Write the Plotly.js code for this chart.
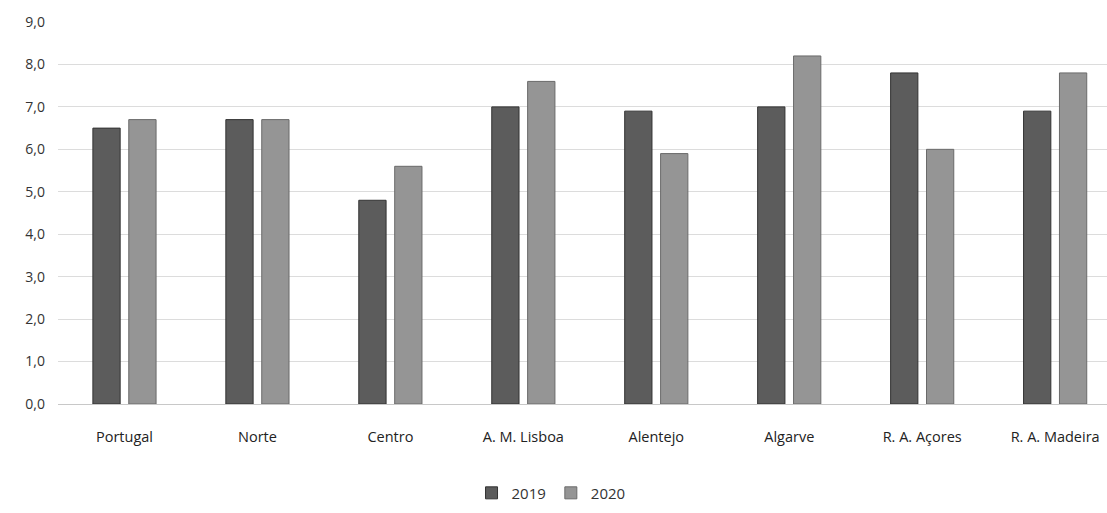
<!DOCTYPE html>
<html>
<head>
<meta charset="utf-8">
<script src="https://cdn.plot.ly/plotly-3.0.1.min.js"></script>
<style>html,body{margin:0;padding:0;background:#fff;}#chart{width:1107px;height:513px;}</style>
</head>
<body>
<div id="chart"></div>
<script>
const categories = ["Portugal", "Norte", "Centro", "A. M. Lisboa", "Alentejo", "Algarve", "R. A. Açores", "R. A. Madeira"];
const values2019 = [6.5, 6.7, 4.8, 7.0, 6.9, 7.0, 7.8, 6.9];
const values2020 = [6.7, 6.7, 5.6, 7.6, 5.9, 8.2, 6.0, 7.8];
const seriesNames = ["2019", "2020"];

const traces = [
  {type: "bar", name: seriesNames[0], x: categories, y: values2019,
   marker: {color: "#5c5c5c", line: {color: "#333333", width: 1}}},
  {type: "bar", name: seriesNames[1], x: categories, y: values2020,
   marker: {color: "#959595", line: {color: "#6a6a6a", width: 1}}}
];

const layout = {
  width: 1107, height: 513,
  margin: {l: 58, r: 0, t: 22, b: 109},
  paper_bgcolor: "#ffffff", plot_bgcolor: "#ffffff",
  separators: ",.",
  barmode: "group", bargap: 0.46, bargroupgap: 0.24,
  font: {family: "Open Sans, sans-serif", color: "#333333", size: 13},
  xaxis: {
    range: [-0.5, 7.39], showgrid: false, zeroline: false, showline: false,
    ticks: "", ticklabelstandoff: 22, tickfont: {size: 14.5, color: "#222222"}
  },
  yaxis: {
    range: [0, 9], dtick: 1, tickformat: ".1f",
    showgrid: true, gridcolor: "#dcdcdc", gridwidth: 1,
    zeroline: true, zerolinecolor: "#c8c8c8", zerolinewidth: 1,
    showline: false, ticks: "", ticklabelstandoff: 12,
    tickfont: {size: 14, color: "#333333"}
  },
  legend: {
    orientation: "h", x: 0.47, xanchor: "center", y: -0.19, yanchor: "top",
    font: {size: 15, color: "#333333"}, itemwidth: 30, traceorder: "normal"
  },
  showlegend: true
};

Plotly.newPlot("chart", traces, layout, {displayModeBar: false, staticPlot: true});
</script>
</body>
</html>
